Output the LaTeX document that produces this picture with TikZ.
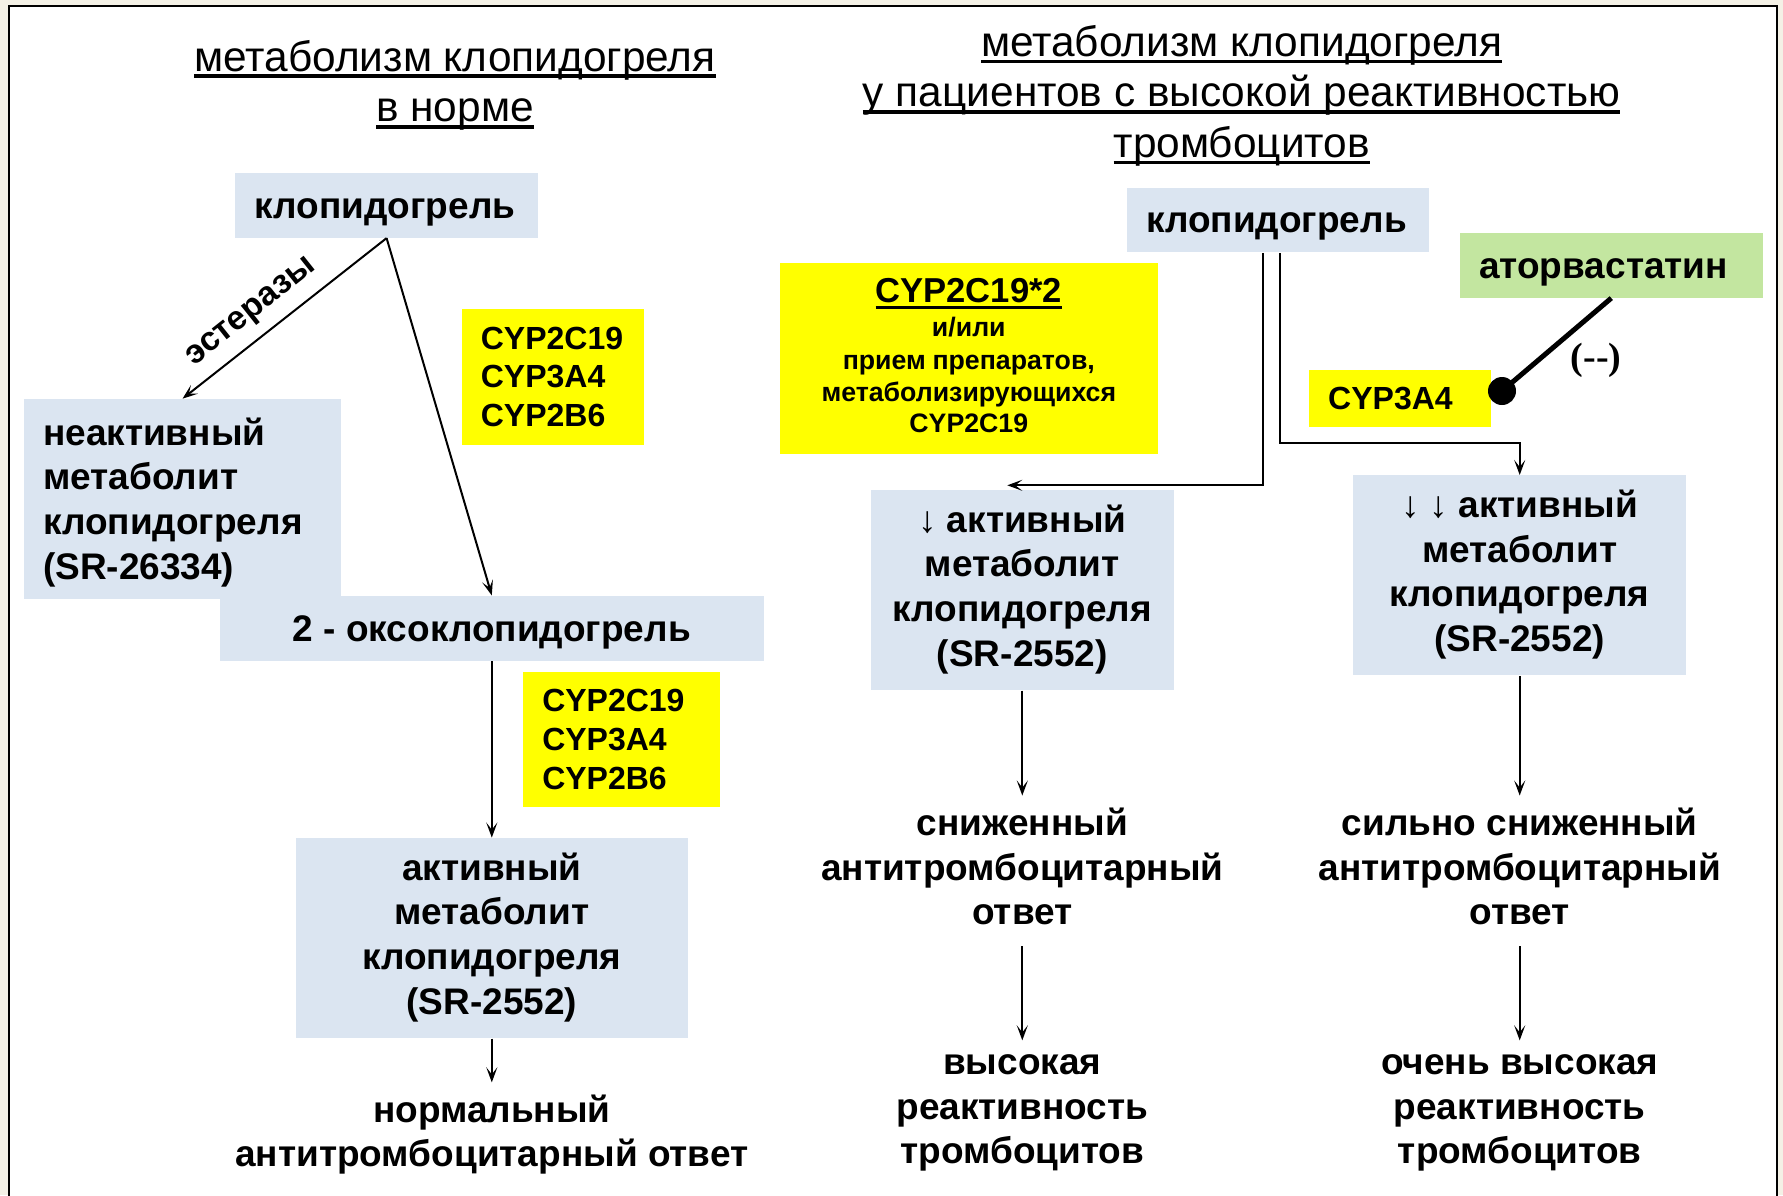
\documentclass[tikz,border=0pt]{standalone}
\usepackage{fontspec}
\setmainfont{Liberation Sans}
\newfontfamily\serifbf{Liberation Serif}
\usetikzlibrary{arrows.meta}
\definecolor{boxblue}{RGB}{219,229,241}
\definecolor{cypyellow}{RGB}{255,255,0}
\definecolor{atorgreen}{RGB}{195,230,160}
\definecolor{pagecream}{RGB}{244,241,230}
\newcommand{\myul}[1]{\setbox0\hbox{#1}\rlap{\rule[-3.4pt]{\wd0}{1.8pt}}\box0}
\newcommand{\ms}{\rule[\dimexpr-0.3\baselineskip+2pt\relax]{0pt}{\baselineskip}}
\newcommand{\msc}{\rule[\dimexpr-0.3\baselineskip+1pt\relax]{0pt}{\baselineskip}}
\newcommand{\msd}{\rule[\dimexpr-0.3\baselineskip+3pt\relax]{0pt}{\baselineskip}}
\newcommand{\fmain}{\bfseries\fontsize{18.5pt}{22.3pt}\selectfont}
\newcommand{\ftitle}{\fontsize{21.2pt}{25.3pt}\selectfont}
\newcommand{\fcyp}{\bfseries\fontsize{16pt}{19.35pt}\selectfont}
\newcommand{\fsmall}{\bfseries\fontsize{13.35pt}{16.3pt}\selectfont}
\begin{document}
\begin{tikzpicture}[x=0.5pt,y=-0.5pt,
  bluebox/.style={fill=boxblue, align=center, font=\fmain, inner sep=0pt,
    execute at begin node=\ms, execute at end node=\ms},
  bigbox/.style={bluebox, execute at begin node=\msd, execute at end node=\msd},
  lbox/.style={align=left, inner xsep=9.6pt, inner ysep=0pt,
    execute at begin node=\ms, execute at end node=\ms},
  cyp/.style={lbox, fill=cypyellow, font=\fcyp,
    execute at begin node=\msc, execute at end node=\msc},
  txt/.style={font=\fmain, align=center, inner xsep=0pt, inner ysep=6pt,
    execute at begin node=\ms, execute at end node=\ms},
  ttl/.style={font=\ftitle, align=center, inner sep=0pt,
    execute at begin node=\ms, execute at end node=\ms},
  arr/.style={-{Stealth[length=7.5pt,width=5.5pt,inset=3.5pt]}, line width=1pt}]
\useasboundingbox (0,0) rectangle (1783,1195);
\fill[pagecream] (0,0) rectangle (1783,1195);
\fill[white] (9,6) rectangle (1777,1200);
\draw[line width=1pt] (9,1200) -- (9,6) -- (1777,6) -- (1777,1200);

% titles
\node[ttl] (tleft) at (455,86.5) {\myul{метаболизм клопидогреля}\\\myul{в норме}};
\node[ttl] (tright) at (1241.7,97) {\myul{метаболизм клопидогреля}\\\myul{у пациентов с высокой реактивностью}\\\myul{тромбоцитов}};

% left column
\node[bluebox, lbox, text width=132pt, minimum height=32.4pt] (klop1) at (386.6,205.3) {клопидогрель};
\node[cyp, text width=71.75pt, minimum height=67.65pt] (cypa) at (552.6,377) {CYP2C19\\CYP3A4\\CYP2B6};
\node[bluebox, lbox, text width=139.4pt, minimum height=100.1pt] (inact) at (182.5,499.2) {неактивный\\метаболит\\клопидогреля\\(SR-26334)};
\node[bluebox, minimum width=272.3pt, minimum height=32.45pt] (oxo) at (491.8,628.3) {2 - оксоклопидогрель};
\node[cyp, text width=79.15pt, minimum height=67.7pt] (cypb) at (621.4,739.7) {CYP2C19\\CYP3A4\\CYP2B6};
\node[bigbox, minimum width=196.2pt, minimum height=100.1pt] (active) at (491.8,938.1) {активный\\метаболит\\клопидогреля\\(SR-2552)};
\node[txt] (normal) at (491.8,1135.5) {нормальный\\антитромбоцитарный ответ};
\node[font=\bfseries\fontsize{16.8pt}{19pt}\selectfont, rotate=38.5, inner sep=0pt] (est) at (252,313) {эстеразы};

\draw[arr] (klop1.south) -- (inact.north);
\draw[arr] (klop1.south) -- (oxo.north);
\draw[arr] (oxo.south) -- (active.north);
\draw[arr] (active.south) -- (normal.north);

% right part
\node[bluebox, lbox, text width=132pt, minimum height=32.4pt] (klop2) at (1278.1,220) {клопидогрель};
\node[fill=cypyellow, align=center, text width=188.8pt, inner sep=0pt, minimum height=95.5pt] (cypstar) at (968.8,358.2)
  {{\bfseries\fontsize{17.3pt}{20pt}\selectfont\strut\myul{CYP2C19*2}\par}\vspace{0.8pt}\fsmall и/или\\прием препаратов,\\метаболизирующихся\\CYP2C19\strut};
\node[bluebox, lbox, fill=atorgreen, text width=132.15pt, minimum height=32.5pt] (ator) at (1611.3,265.2) {аторвастатин};
\node[cyp, text width=71.8pt, minimum height=28.65pt] (cyp3a4) at (1400,398.7) {CYP3A4};
\node[circle, fill=black, minimum size=14pt, inner sep=0pt] (inh) at (1502,391) {};
\node[font=\serifbf\bfseries\fontsize{19pt}{21pt}\selectfont, inner sep=0pt] (minus) at (1596,360) {(-{}-)};

\node[bigbox, minimum width=151.25pt, minimum height=100pt] (act1) at (1022.3,590.1) {↓ активный\\метаболит\\клопидогреля\\(SR-2552)};
\node[bigbox, minimum width=166.5pt, minimum height=100pt] (act2) at (1519.7,575.4) {↓ ↓ активный\\метаболит\\клопидогреля\\(SR-2552)};
\node[txt] (red1) at (1022.3,871) {сниженный\\антитромбоцитарный\\ответ};
\node[txt] (high1) at (1022.3,1114) {высокая\\реактивность\\тромбоцитов};
\node[txt] (red2) at (1519.7,871) {сильно сниженный\\антитромбоцитарный\\ответ};
\node[txt] (high2) at (1519.7,1114) {очень высокая\\реактивность\\тромбоцитов};

\draw[line width=2.5pt] (ator.south) -- (inh.center);
\draw[arr] ([xshift=-7.4pt]klop2.south) |- ([xshift=-7.5pt,yshift=2.2pt]act1.north);
\draw[arr] ([xshift=1.15pt]klop2.south) |- ([yshift=15.85pt]act2.north) -- (act2.north);
\draw[arr] (act1.south) -- (red1.north);
\draw[arr, shorten >=1pt] (red1.south) -- (high1.north);
\draw[arr] (act2.south) -- (red2.north);
\draw[arr, shorten >=1pt] (red2.south) -- (high2.north);
\end{tikzpicture}
\end{document}
